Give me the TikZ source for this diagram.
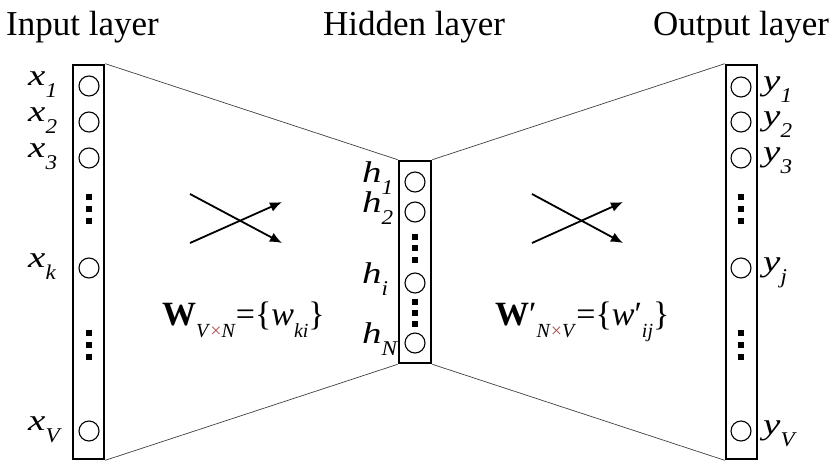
\documentclass[tikz,border=0pt]{standalone}
\usepackage{graphicx}
\usepackage{fontspec}
\setmainfont{Liberation Serif}
\usetikzlibrary{arrows.meta}

\newcommand{\nlab}[2]{\fontsize{30}{30}\selectfont\scalebox{1.3}[1]{\textit{#1}}\raisebox{-12pt}{\fontsize{21}{21}\selectfont\scalebox{1.1}[1]{\textit{#2}}}}
\newcommand{\wsub}[1]{\raisebox{-12pt}{\fontsize{20}{20}\selectfont #1}}
\newcommand{\tms}{\textcolor{red!35!gray}{×}}

\begin{document}
\begin{tikzpicture}[x=1pt,y=-1pt,
  layer/.style={draw,line width=2.6pt,minimum width=31pt,inner sep=0},
  neuron/.style={circle,draw,line width=1.1pt,minimum size=20pt,inner sep=0},
  link/.style={black!75,line width=0.7pt},
  cross/.style={line width=1.8pt,-{Latex[length=12pt,width=10pt]}},
  head/.style={font=\fontsize{35}{35}\selectfont,anchor=base west,inner sep=0},
  lab/.style={anchor=base west,inner sep=0}]
\useasboundingbox (0,0) rectangle (832,463);
%headers
\node[head] (inhead) at (6,35) {Input layer};
\node[head] (hidhead) at (323,35) {Hidden layer};
\node[head] (outhead) at (653,35) {Output layer};
%layers
\node[layer,minimum height=394pt] (inlayer) at (88.5,262) {};
\node[layer,minimum height=202pt,minimum width=32pt] (hidlayer) at (415,262) {};
\node[layer,minimum height=394pt] (outlayer) at (741.5,262) {};
\draw[link] (inlayer.north east) -- (hidlayer.north west)
            (inlayer.south east) -- (hidlayer.south west)
            (hidlayer.north east) -- (outlayer.north west)
            (hidlayer.south east) -- (outlayer.south west);
%input neurons
\foreach \n/\y in {1/86,2/122,3/158,k/268,V/431}
{
  \node[neuron] (x\n) at (89,\y) {};
  \node[lab] (xl\n) at (28,\y-1) {\nlab{x}{\n}};
}
%hidden neurons
\foreach \n/\y in {1/182,2/212,i/283,N/343}
{
  \node[neuron] (h\n) at (415,\y) {};
  \node[lab] (hl\n) at (362,\y) {\nlab{h}{\n}};
}
%output neurons
\foreach \n/\y in {1/87,2/122,3/158,j/268,V/431}
{
  \node[neuron] (y\n) at (741,\y) {};
  \node[lab] (yl\n) at (763,\y+3) {\nlab{y}{\n}};
}
%dots
\foreach \y in {197,209,221,333,345,357}
{
  \fill (86,\y-3) rectangle ++(6,6);
  \fill (738,\y-3) rectangle ++(6,6);
}
\foreach \y in {237,248,260,302,313,324}
  \fill (412,\y-3) rectangle ++(6,6);
%weights
\draw[cross] (190,194) -- (282,243);
\draw[cross] (190,243) -- (282,202);
\draw[cross] (532,194) -- (623,243);
\draw[cross] (532,243) -- (623,202);
\node[lab,font=\fontsize{34}{34}\selectfont] (win) at (162,325)
  {\textbf{W}\wsub{\textit{V}\tms\textit{N}}=\{\textit{w}\wsub{\textit{ki}}\}};
\node[lab,font=\fontsize{34}{34}\selectfont] (wout) at (495,325)
  {\textbf{W}′\wsub{\textit{N}\tms\textit{V}}=\{\textit{w}′\wsub{\textit{ij}}\}};
\end{tikzpicture}
\end{document}
